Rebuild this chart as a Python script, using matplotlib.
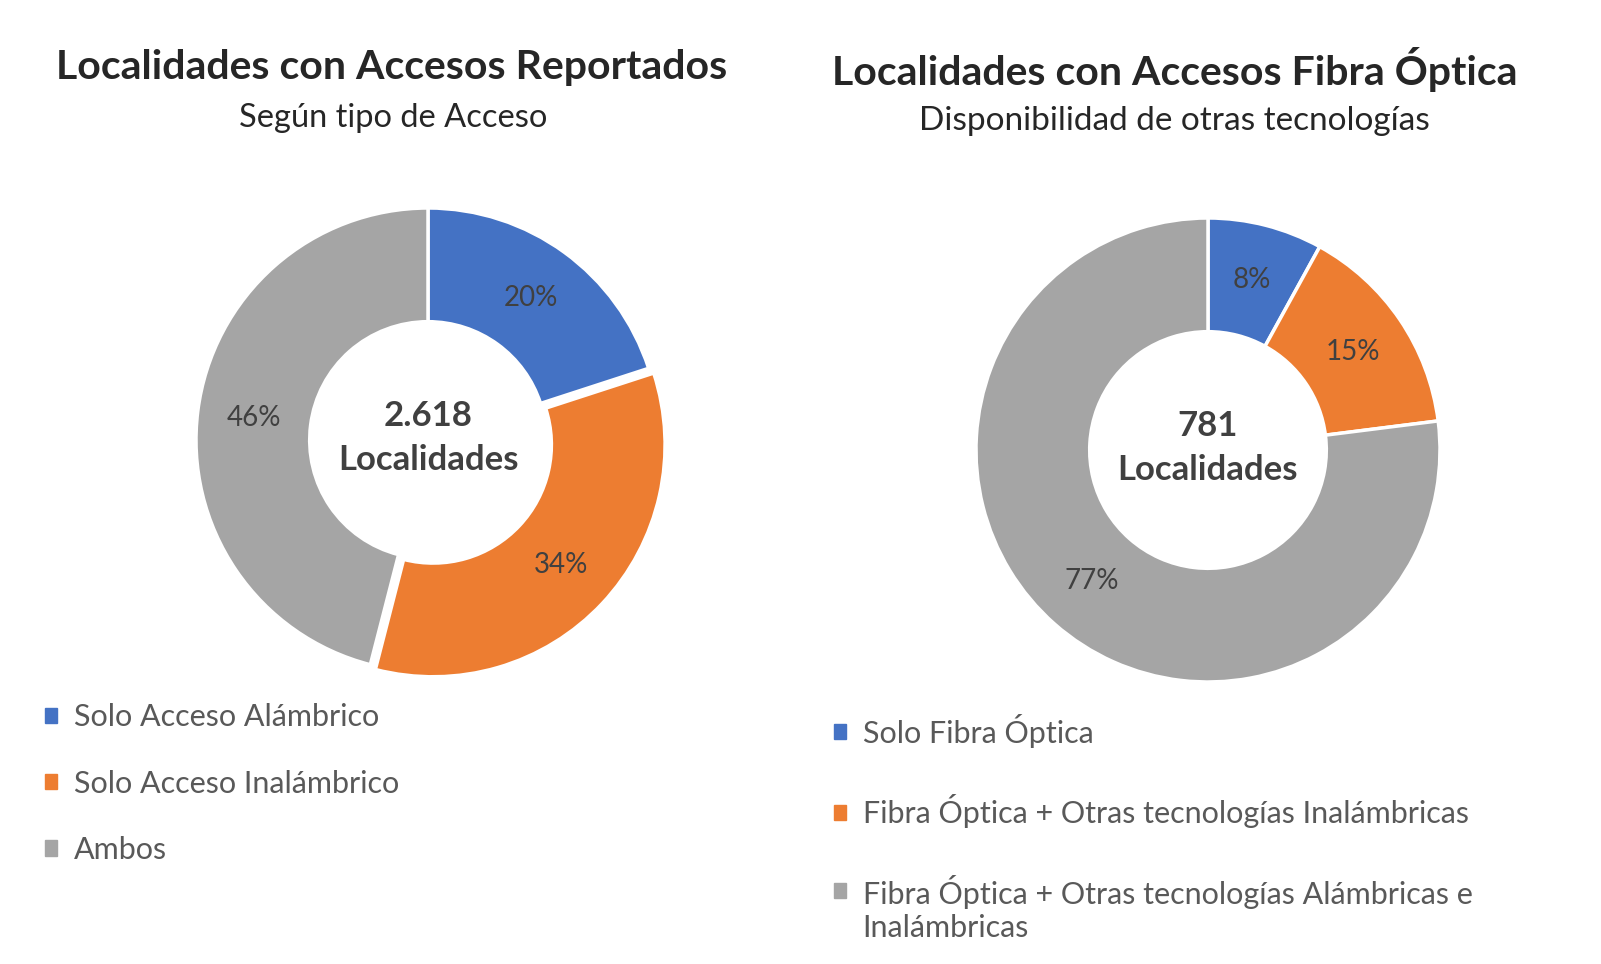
import matplotlib
matplotlib.use("Agg")
import matplotlib.pyplot as plt
from matplotlib.patches import Patch, Rectangle
from matplotlib.legend_handler import HandlerPatch

plt.rcParams["font.family"] = ["Lato", "DejaVu Sans"]

# ==========================================================
# DATOS
# ==========================================================

colores = ["#4472C4", "#ED7D31", "#A5A5A5"]

titulo_1 = "Localidades con Accesos Reportados"
subtitulo_1 = "Según tipo de Acceso"
etiquetas_1 = ["Solo Acceso Alámbrico", "Solo Acceso Inalámbrico", "Ambos"]
valores_1 = [20, 34, 46]
total_1 = "2.618"

titulo_2 = "Localidades con Accesos Fibra Óptica"
subtitulo_2 = "Disponibilidad de otras tecnologías"
etiquetas_2 = ["Solo Fibra Óptica",
               "Fibra Óptica + Otras tecnologías Inalámbricas",
               "Fibra Óptica + Otras tecnologías Alámbricas e\nInalámbricas"]
valores_2 = [8, 15, 77]
total_2 = "781"

# ==========================================================
# FIGURA
# ==========================================================

W, H = 1601, 964
fig = plt.figure(figsize=(W / 100, H / 100), dpi=100)
LEG_FS = 22


def px_axes(cx, cy, r):
    # caja cuadrada centrada en (cx, cy) en pixeles, limites +-1.25
    s = 2.5 * r
    return fig.add_axes([(cx - s / 2) / W, (H - cy - s / 2) / H, s / W, s / H])


def donut(ax, valores, total, explode):
    ax.pie(valores, colors=colores, startangle=90, counterclock=False,
           radius=1.0, explode=explode,
           wedgeprops=dict(width=0.49, edgecolor="white", linewidth=2.5),
           autopct=lambda p: f"{p:.0f}%", pctdistance=0.755,
           textprops=dict(fontsize=20, color="#404040"))
    ax.set_xlim(-1.25, 1.25)
    ax.set_ylim(-1.25, 1.25)
    ax.text(0, 0.105, total, ha="center", va="center", fontsize=25,
            fontweight="bold", color="#404040")
    ax.text(0, -0.085, "Localidades", ha="center", va="center", fontsize=25,
            fontweight="bold", color="#404040")


ax1 = px_axes(428, 440, 232)
donut(ax1, valores_1, total_1, [0, 0.03, 0])

ax2 = px_axes(1208, 450, 232)
donut(ax2, valores_2, total_2, [0, 0, 0])

# titulos
fig.text(392 / W, 1 - 67 / H, titulo_1, ha="center", va="center",
         fontsize=29.5, fontweight="bold", color="#262626")
fig.text(393 / W, 1 - 118 / H, subtitulo_1, ha="center", va="center",
         fontsize=23.5, color="#262626")
fig.text(1175 / W, 1 - 70 / H, titulo_2, ha="center", va="center",
         fontsize=29.5, fontweight="bold", color="#262626")
fig.text(1174 / W, 1 - 121 / H, subtitulo_2, ha="center", va="center",
         fontsize=24, color="#262626")


# marcador de la leyenda alineado con la primera linea del texto
def marcador_arriba(legend, orig_handle, xdescent, ydescent, width, height, fontsize):
    return Rectangle((-xdescent, -ydescent + 0.6 * fontsize), width, height)


# leyendas
h1 = [Patch(color=c) for c in colores]
fig.legend(h1, etiquetas_1, loc="upper left",
           bbox_to_anchor=(17 / W, 1 - 676 / H), frameon=False,
           fontsize=LEG_FS, labelcolor="#595959", handlelength=0.4,
           handleheight=0.4, handletextpad=0.55, labelspacing=1.25)

h2 = [Patch(color=c) for c in colores]
fig.legend(h2, etiquetas_2, loc="upper left",
           bbox_to_anchor=(806 / W, 1 - 686 / H), frameon=False,
           fontsize=LEG_FS, labelcolor="#595959", handlelength=0.4,
           handleheight=0.4, handletextpad=0.55, labelspacing=1.53,
           handler_map={h2[2]: HandlerPatch(patch_func=marcador_arriba)})

fig.savefig("out.png", dpi=100, facecolor="white")
